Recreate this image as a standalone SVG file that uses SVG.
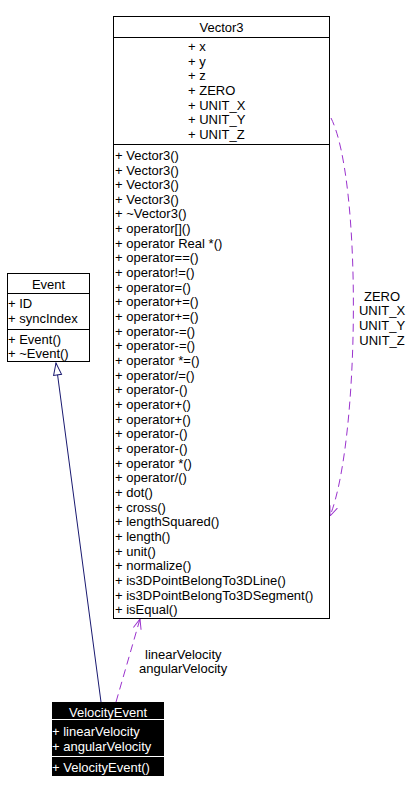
<svg xmlns="http://www.w3.org/2000/svg" width="416" height="793" viewBox="0 0 416 793">
<style>
text{font-family:"Liberation Sans",Arial,sans-serif;font-size:13px;fill:#000}
.box{fill:#fff;stroke:#000;stroke-width:1}
.ln{stroke:#000;stroke-width:1}
.w text{fill:#fff}
.dash{fill:none;stroke:#9a32cd;stroke-width:1;stroke-dasharray:8,5}
.gen{fill:none;stroke:#191970;stroke-width:1}
</style>
<defs>
<marker id="open" viewBox="0 0 10 10" refX="10" refY="5" markerWidth="10" markerHeight="10" markerUnits="userSpaceOnUse" orient="auto">
<path d="M0,1 L10,5 L0,9" fill="none" stroke="#9a32cd" stroke-width="1"/>
</marker>
<marker id="tri" viewBox="0 0 14 10" refX="13" refY="5" markerWidth="14" markerHeight="10" markerUnits="userSpaceOnUse" orient="auto">
<path d="M1,1 L13,5 L1,9 Z" fill="#fff" stroke="#191970" stroke-width="1"/>
</marker>
</defs>
<g id="connectors">
<path class="gen" d="M101,702 L56,363" marker-end="url(#tri)"/>
<path class="dash" d="M116,702 L140,619" marker-end="url(#open)"/>
<path class="dash" d="M331,118 C362,180 360,440 330,516" marker-end="url(#open)"/>
<text x="145" y="659">linearVelocity</text>
<text x="139" y="673">angularVelocity</text>
<text x="382" y="301" text-anchor="middle">ZERO</text>
<text x="382" y="315" text-anchor="middle">UNIT_X</text>
<text x="382" y="330" text-anchor="middle">UNIT_Y</text>
<text x="382" y="345" text-anchor="middle">UNIT_Z</text>
</g>
<g id="Vector3">
<rect class="box" x="113.5" y="16.5" width="216" height="602"/>
<line class="ln" x1="113" y1="37.5" x2="330" y2="37.5"/>
<line class="ln" x1="113" y1="144.5" x2="330" y2="144.5"/>
<text x="221.5" y="32" text-anchor="middle">Vector3</text>
<text x="188" y="51">+ x</text>
<text x="188" y="66">+ y</text>
<text x="188" y="80">+ z</text>
<text x="188" y="95">+ ZERO</text>
<text x="188" y="110">+ UNIT_X</text>
<text x="188" y="124">+ UNIT_Y</text>
<text x="188" y="139">+ UNIT_Z</text>
<text x="115" y="160">+ Vector3()</text>
<text x="115" y="175">+ Vector3()</text>
<text x="115" y="189">+ Vector3()</text>
<text x="115" y="204">+ Vector3()</text>
<text x="115" y="218">+ ~Vector3()</text>
<text x="115" y="233">+ operator[]()</text>
<text x="115" y="248">+ operator Real *()</text>
<text x="115" y="262">+ operator==()</text>
<text x="115" y="277">+ operator!=()</text>
<text x="115" y="292">+ operator=()</text>
<text x="115" y="306">+ operator+=()</text>
<text x="115" y="321">+ operator+=()</text>
<text x="115" y="336">+ operator-=()</text>
<text x="115" y="350">+ operator-=()</text>
<text x="115" y="365">+ operator *=()</text>
<text x="115" y="380">+ operator/=()</text>
<text x="115" y="394">+ operator-()</text>
<text x="115" y="409">+ operator+()</text>
<text x="115" y="424">+ operator+()</text>
<text x="115" y="438">+ operator-()</text>
<text x="115" y="453">+ operator-()</text>
<text x="115" y="468">+ operator *()</text>
<text x="115" y="482">+ operator/()</text>
<text x="115" y="497">+ dot()</text>
<text x="115" y="512">+ cross()</text>
<text x="115" y="526">+ lengthSquared()</text>
<text x="115" y="541">+ length()</text>
<text x="115" y="556">+ unit()</text>
<text x="115" y="570">+ normalize()</text>
<text x="115" y="585">+ is3DPointBelongTo3DLine()</text>
<text x="115" y="600">+ is3DPointBelongTo3DSegment()</text>
<text x="115" y="614">+ isEqual()</text>
</g>
<g id="Event">
<rect class="box" x="7.5" y="273.5" width="82" height="88"/>
<line class="ln" x1="7" y1="293.5" x2="90" y2="293.5"/>
<line class="ln" x1="7" y1="329.5" x2="90" y2="329.5"/>
<text x="48.5" y="289" text-anchor="middle">Event</text>
<text x="8" y="308">+ ID</text>
<text x="8" y="323">+ syncIndex</text>
<text x="8" y="344">+ Event()</text>
<text x="8" y="358">+ ~Event()</text>
</g>
<g id="VelocityEvent" class="w">
<rect x="52" y="702" width="112" height="74" fill="#000"/>
<line x1="52" y1="719.5" x2="164" y2="719.5" stroke="#fff"/>
<line x1="52" y1="756.5" x2="164" y2="756.5" stroke="#fff"/>
<text x="108" y="717" text-anchor="middle">VelocityEvent</text>
<text x="52" y="736">+ linearVelocity</text>
<text x="52" y="751">+ angularVelocity</text>
<text x="52" y="772">+ VelocityEvent()</text>
</g>
</svg>
